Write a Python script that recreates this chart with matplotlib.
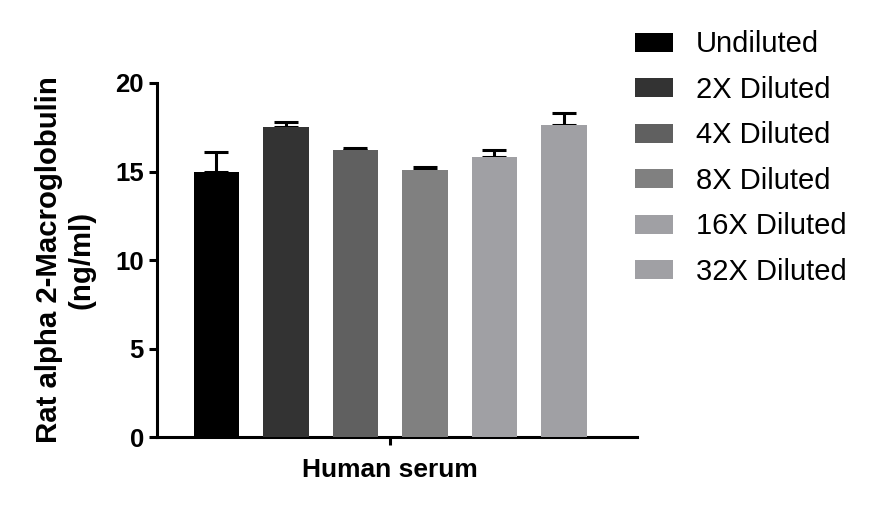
import numpy as np
import matplotlib
matplotlib.use("Agg")
import matplotlib.pyplot as plt

plt.rcParams['font.family'] = ['Liberation Sans', 'DejaVu Sans']

groups = ["Undiluted", "2X Diluted", "4X Diluted", "8X Diluted", "16X Diluted", "32X Diluted"]
means = [14.97, 17.53, 16.21, 15.08, 15.82, 17.63]
errs = [1.11, 0.29, 0.09, 0.15, 0.39, 0.66]
colors = ["#000000", "#333333", "#606060", "#808080", "#a0a0a4", "#a0a0a4"]
xlabel = "Human serum"
ylabel = "Rat alpha 2-Macroglobulin\n(ng/ml)"

fig = plt.figure(figsize=(8.71, 5.07), dpi=100)
ax = fig.add_axes([0.1803, 0.138, 0.5510, 0.6983])

x = np.arange(len(groups))
bars = ax.bar(x, means, width=0.66, color=colors, label=groups, zorder=3)
ax.errorbar(x, means, yerr=[np.zeros(len(errs)), errs], fmt='none', ecolor='black',
            elinewidth=2.2, capsize=8.3, capthick=2.2, zorder=2)

ax.set_xlim(-0.855, 6.05)
ax.set_ylim(0, 20)
ax.set_yticks([0, 5, 10, 15, 20])
# group label sits under the single x tick
ax.set_xticks([2.5])
ax.set_xticklabels([xlabel], fontsize=19, fontweight='bold')
ax.set_ylabel(ylabel, fontsize=21.2, fontweight='bold', labelpad=14)

for s in ['top', 'right']:
    ax.spines[s].set_visible(False)
for s in ['left', 'bottom']:
    ax.spines[s].set_linewidth(2.2)
ax.tick_params(axis='both', width=2.2, length=6)
ax.tick_params(axis='y', labelsize=18.5)
ax.tick_params(axis='x', pad=9)
for t in ax.get_yticklabels():
    t.set_fontweight('bold')

fig.legend(handles=bars, labels=groups, loc='upper left', bbox_to_anchor=(0.7153, 0.963),
           frameon=False, fontsize=21, handlelength=1.3, handleheight=0.62,
           handletextpad=0.79, labelspacing=0.6, borderaxespad=0)

fig.savefig("out.png", dpi=100)
